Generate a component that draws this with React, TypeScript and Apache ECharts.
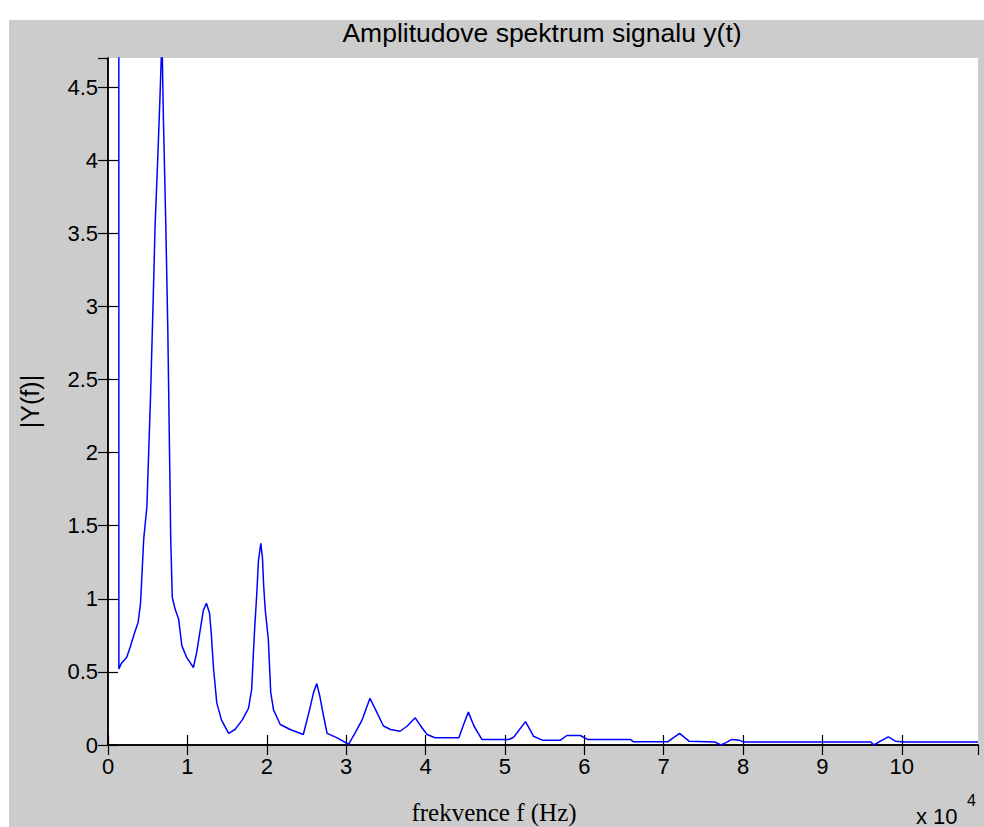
import React, { useEffect, useRef } from 'react';
import * as echarts from 'echarts';

const TITLE = 'Amplitudove spektrum signalu y(t)';
const X_NAME = 'frekvence f (Hz)';
const Y_NAME = '|Y(f)|';
const X_EXP_BASE = 'x 10';
const X_EXP = '4';

// frequency in units of 10^4 Hz
const freqs = [
  0.136, 0.137, 0.17, 0.236, 0.28, 0.33, 0.38, 0.41, 0.43, 0.45, 0.49, 0.535, 0.571, 0.593, 0.626, 0.656, 0.68,
  0.697, 0.727, 0.753, 0.78, 0.79, 0.81, 0.845, 0.89, 0.93, 0.99, 1.076, 1.12, 1.16, 1.2, 1.24, 1.28, 1.3, 1.33,
  1.37, 1.43, 1.52, 1.6, 1.69, 1.77, 1.81, 1.83, 1.85, 1.875, 1.895, 1.925, 1.946, 1.96, 1.98, 2.02, 2.05, 2.085,
  2.17, 2.295, 2.46, 2.53, 2.59, 2.63, 2.67, 2.715, 2.76, 2.88, 3.03, 3.11, 3.2, 3.3, 3.39, 3.47, 3.56, 3.68, 3.77,
  3.87, 3.955, 4.02, 4.12, 4.42, 4.48, 4.54, 4.61, 4.71, 5.05, 5.11, 5.26, 5.36, 5.47, 5.7, 5.78, 5.95, 6.04, 6.58,
  6.62, 7.05, 7.2, 7.32, 7.65, 7.72, 7.78, 7.86, 7.95, 8.01, 9.61, 9.65, 9.73, 9.83, 9.92, 10.03, 10.96,
];
const amps = [
  8.0, 0.52, 0.56, 0.6, 0.67, 0.76, 0.84, 0.97, 1.19, 1.41, 1.63, 2.37, 3.08, 3.55, 4.0, 4.45, 4.85,
  4.31, 3.59, 2.86, 1.82, 1.41, 1.01, 0.93, 0.86, 0.68, 0.6, 0.53, 0.64, 0.78, 0.92, 0.97, 0.9, 0.77, 0.52,
  0.29, 0.17, 0.08, 0.106, 0.17, 0.25, 0.38, 0.61, 0.82, 1.04, 1.26, 1.38, 1.28, 1.1, 0.93, 0.72, 0.36, 0.24,
  0.14, 0.106, 0.072, 0.22, 0.36, 0.42, 0.33, 0.2, 0.08, 0.05, 0.005, 0.08, 0.17, 0.32, 0.22, 0.13, 0.106, 0.094, 0.13,
  0.186, 0.118, 0.072, 0.05, 0.05, 0.14, 0.225, 0.13, 0.038, 0.038, 0.053, 0.16, 0.06, 0.033, 0.033, 0.065, 0.065, 0.038, 0.038,
  0.022, 0.022, 0.08, 0.026, 0.02, 0.0, 0.015, 0.038, 0.033, 0.02, 0.02, 0.0, 0.026, 0.055, 0.026, 0.02, 0.02,
];

const X_MIN = 0;
const X_MAX = 10.96;
const X_STEP = 1;
const Y_MIN = 0;
const Y_MAX = 4.7;
const Y_STEP = 0.5;

const SANS = '"Liberation Sans", Arial, Helvetica, sans-serif';
const SERIF = '"Liberation Serif", "Times New Roman", serif';

export default function App() {
  const ref = useRef<HTMLDivElement>(null);

  useEffect(() => {
    if (!ref.current) return;
    const chart = echarts.init(ref.current, null, { renderer: 'svg' });
    const data = freqs.map((f, i) => [f, amps[i]]);
    const tickStyle = { show: true, inside: true, length: 10, lineStyle: { color: '#000', width: 1.2 } };
    const lineStyle = { show: true, lineStyle: { color: '#000', width: 1.5 } };
    chart.setOption({
      animation: false,
      grid: {
        left: 108,
        top: 58,
        width: 870,
        height: 687,
        show: true,
        backgroundColor: '#ffffff',
        borderWidth: 0,
      },
      xAxis: [
        {
          type: 'value',
          min: X_MIN,
          max: X_MAX,
          interval: X_STEP,
          position: 'bottom',
          axisLine: lineStyle,
          axisTick: tickStyle,
          splitLine: { show: false },
          axisLabel: {
            show: true,
            showMaxLabel: false,
            margin: 10,
            fontSize: 22,
            fontFamily: SANS,
            color: '#000',
            formatter: (v: number) => String(v),
          },
        },
        {
          type: 'value',
          min: X_MIN,
          max: X_MAX,
          interval: X_STEP,
          position: 'top',
          axisLine: lineStyle,
          axisTick: tickStyle,
          splitLine: { show: false },
          axisLabel: { show: false },
        },
      ],
      yAxis: [
        {
          type: 'value',
          min: Y_MIN,
          max: Y_MAX,
          interval: Y_STEP,
          position: 'left',
          axisLine: lineStyle,
          axisTick: tickStyle,
          splitLine: { show: false },
          name: Y_NAME,
          nameLocation: 'middle',
          nameGap: 66,
          nameRotate: 90,
          nameTextStyle: { fontSize: 25, fontFamily: SANS, color: '#000' },
          axisLabel: {
            show: true,
            showMaxLabel: false,
            margin: 10,
            fontSize: 22,
            fontFamily: SANS,
            color: '#000',
            formatter: (v: number) => String(v),
          },
        },
        {
          type: 'value',
          min: Y_MIN,
          max: Y_MAX,
          interval: Y_STEP,
          position: 'right',
          axisLine: lineStyle,
          axisTick: tickStyle,
          splitLine: { show: false },
          axisLabel: { show: false },
        },
      ],
      graphic: [
        {
          type: 'text',
          x: 542,
          y: 33,
          style: {
            text: TITLE,
            fontSize: 26.5,
            fontFamily: SANS,
            fill: '#000',
            align: 'center',
            verticalAlign: 'middle',
          },
        },
        {
          type: 'text',
          x: 494,
          y: 812,
          style: {
            text: X_NAME,
            fontSize: 25,
            fontFamily: SERIF,
            fill: '#000',
            align: 'center',
            verticalAlign: 'middle',
          },
        },
        {
          type: 'text',
          x: 916,
          y: 816,
          style: {
            text: X_EXP_BASE,
            fontSize: 22,
            fontFamily: SANS,
            fill: '#000',
            align: 'left',
            verticalAlign: 'middle',
          },
        },
        {
          type: 'text',
          x: 967,
          y: 800,
          style: {
            text: X_EXP,
            fontSize: 16,
            fontFamily: SANS,
            fill: '#000',
            align: 'left',
            verticalAlign: 'middle',
          },
        },
      ],
      series: [
        {
          type: 'line',
          xAxisIndex: 0,
          yAxisIndex: 0,
          data,
          showSymbol: false,
          symbol: 'none',
          clip: true,
          lineStyle: { color: '#0000ff', width: 1.5 },
        },
      ],
    });
    return () => chart.dispose();
  }, []);

  return (
    <div style={{ position: 'fixed', left: 0, top: 0, width: 984, height: 827, background: '#ffffff' }}>
      <div style={{ position: 'absolute', left: 9, top: 20, right: 0, bottom: 0, background: '#cccccc' }} />
      <div ref={ref} style={{ position: 'absolute', left: 0, top: 0, width: 984, height: 827 }} />
    </div>
  );
}
